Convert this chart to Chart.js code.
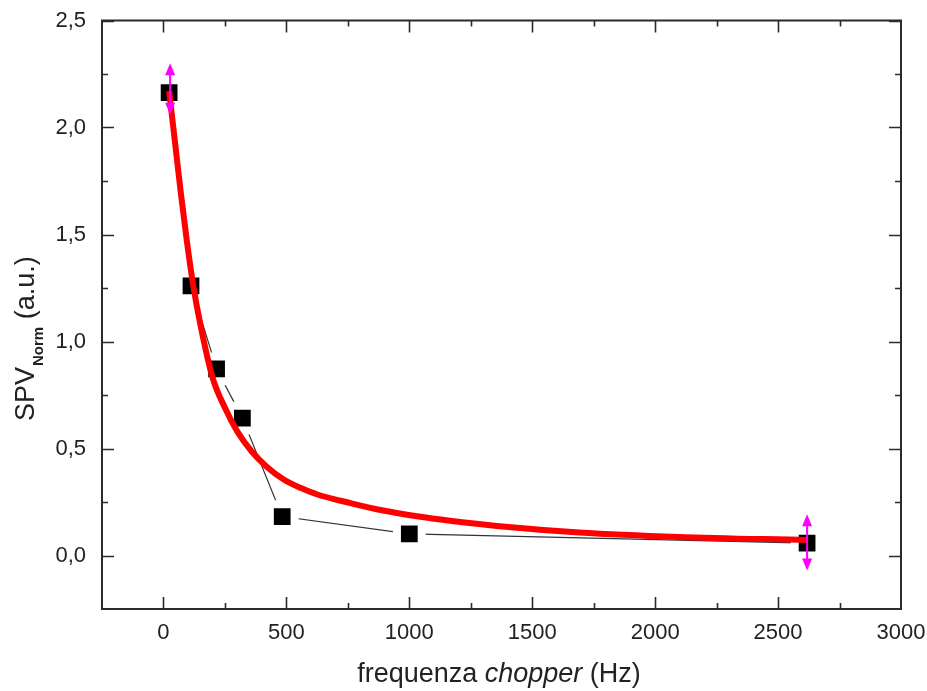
<!DOCTYPE html>
<html>
<head>
<meta charset="utf-8">
<script src="https://cdn.jsdelivr.net/npm/chart.js@4/dist/chart.umd.min.js"></script>
<style>
html,body{margin:0;padding:0;background:#fff;}
#wrap{width:927px;height:691px;position:relative;}
</style>
</head>
<body>
<div id="wrap"><canvas id="c" width="927" height="691"></canvas></div>
<script>
// ---- data ----
const freqHz = [23, 112, 216, 321, 483, 1000, 2618];
const spvNorm = [2.163, 1.26, 0.872, 0.642, 0.182, 0.101, 0.058];

const fitHz  = [23, 45, 70, 95, 120, 150, 200, 250, 300, 360, 420, 489, 560, 626, 760, 894, 1031, 1165, 1356, 1691, 2096, 2618];
const fitSpv = [2.17, 1.95, 1.70, 1.47, 1.27, 1.08, 0.83, 0.69, 0.58, 0.485, 0.415, 0.355, 0.315, 0.285, 0.245, 0.21, 0.183, 0.162, 0.138, 0.108, 0.087, 0.072];

const arrowHz  = [27, 2618];
const arrowTop = [2.30, 0.193];
const arrowBot = [2.06, -0.07];

const xTicks = [0, 500, 1000, 1500, 2000, 2500, 3000];
const yTicks = [0, 0.5, 1.0, 1.5, 2.0, 2.5];
const xMinor = [-250, 250, 750, 1250, 1750, 2250, 2750];
const yMinor = [-0.25, 0.25, 0.75, 1.25, 1.75, 2.25];

const AX = '#2b2b2b';

const framePlugin = {
  id: 'frame',
  afterLayout(chart) {
    const a = chart.chartArea, y = chart.scales.y;
    const top = 20.5;
    a.top = top; a.height = a.bottom - a.top;
    y.top = top; y.height = y.bottom - y.top;
    y.configure();
  },
  afterDatasetsDraw(chart) {
    const {ctx, chartArea: a, scales: {x, y}} = chart;
    ctx.save();
    ctx.strokeStyle = AX;
    ctx.lineWidth = 2;
    ctx.strokeRect(a.left, a.top, a.right - a.left, a.bottom - a.top);
    ctx.lineWidth = 1.6;
    ctx.beginPath();
    const tick = (vals, len, horiz) => {
      vals.forEach(v => {
        if (horiz) {
          const px = Math.round(x.getPixelForValue(v)) + 0.5;
          if (px < a.left + 1 || px > a.right - 1) return;
          ctx.moveTo(px, a.bottom); ctx.lineTo(px, a.bottom - len);
          ctx.moveTo(px, a.top); ctx.lineTo(px, a.top + len);
        } else {
          const py = Math.round(y.getPixelForValue(v)) + 0.5;
          if (py < a.top + 1 || py > a.bottom - 1) return;
          ctx.moveTo(a.left, py); ctx.lineTo(a.left + len, py);
          ctx.moveTo(a.right, py); ctx.lineTo(a.right - len, py);
        }
      });
    };
    tick(xTicks, 12, true); tick(xMinor, 6, true);
    tick(yTicks, 12, false); tick(yMinor, 6, false);
    ctx.stroke();

    // magenta double arrows
    ctx.strokeStyle = '#ff00ff';
    ctx.fillStyle = '#ff00ff';
    ctx.lineWidth = 2;
    arrowHz.forEach((f, i) => {
      const px = x.getPixelForValue(f);
      const pt = y.getPixelForValue(arrowTop[i]);
      const pb = y.getPixelForValue(arrowBot[i]);
      ctx.beginPath(); ctx.moveTo(px, pt + 4); ctx.lineTo(px, pb - 4); ctx.stroke();
      ctx.beginPath(); ctx.moveTo(px, pt); ctx.lineTo(px - 5, pt + 12); ctx.lineTo(px + 5, pt + 12); ctx.closePath(); ctx.fill();
      ctx.beginPath(); ctx.moveTo(px, pb); ctx.lineTo(px - 5, pb - 12); ctx.lineTo(px + 5, pb - 12); ctx.closePath(); ctx.fill();
    });

    // axis titles
    ctx.fillStyle = '#222';
    ctx.textBaseline = 'alphabetic';
    const big = '27px "Liberation Sans", Arial, sans-serif';
    const bigI = 'italic 27px "Liberation Sans", Arial, sans-serif';
    const parts = [[big, 'frequenza '], [bigI, 'chopper'], [big, ' (Hz)']];
    let tw = 0;
    parts.forEach(p => { ctx.font = p[0]; tw += ctx.measureText(p[1]).width; });
    let sx = 499 - tw / 2;
    parts.forEach(p => { ctx.font = p[0]; ctx.fillText(p[1], sx, 682); sx += ctx.measureText(p[1]).width; });

    ctx.save();
    ctx.translate(34, 421);
    ctx.rotate(-Math.PI / 2);
    let cx = 0;
    ctx.font = big; ctx.fillText('SPV', cx, 0); cx += ctx.measureText('SPV').width + 1;
    ctx.font = 'bold 15px "Liberation Sans", Arial, sans-serif';
    ctx.fillText('Norm', cx, 9); cx += ctx.measureText('Norm').width;
    ctx.font = big; ctx.fillText(' (a.u.)', cx, 0);
    ctx.restore();
    ctx.restore();
  }
};

const zeroPad = s => { s.paddingTop = 0; s.paddingBottom = 0; s.paddingLeft = 0; s.paddingRight = 0; };

new Chart(document.getElementById('c'), {
  type: 'scatter',
  data: {
    datasets: [
      {
        label: 'fit',
        data: fitHz.map((f, i) => ({x: f, y: fitSpv[i]})),
        showLine: true,
        borderColor: '#ff0000',
        borderWidth: 6,
        pointRadius: 0,
        cubicInterpolationMode: 'monotone',
        order: 1
      },
      {
        label: 'SPV',
        data: freqHz.map((f, i) => ({x: f, y: spvNorm[i]})),
        showLine: true,
        borderColor: '#333',
        borderWidth: 1.2,
        pointStyle: 'rect',
        pointRadius: 17.5,
        pointBorderWidth: 8,
        pointBorderColor: '#ffffff',
        pointBackgroundColor: '#000000',
        order: 2
      }
    ]
  },
  options: {
    responsive: false,
    animation: false,
    events: [],
    layout: {padding: {top: 12, right: 26, left: 0, bottom: 0}},
    plugins: {legend: {display: false}, tooltip: {enabled: false}},
    scales: {
      x: {
        type: 'linear', min: -250, max: 3000,
        afterBuildTicks: s => { s.ticks = xTicks.map(v => ({value: v})); },
        afterFit: s => { s.height = 82; zeroPad(s); },
        grid: {display: false, drawTicks: false},
        border: {display: false},
        ticks: {color: '#222', padding: 11, font: {family: '"Liberation Sans", Arial, sans-serif', size: 22}, maxRotation: 0, autoSkip: false,
          callback: v => String(v)}
      },
      y: {
        type: 'linear', min: -0.25, max: 2.5,
        afterBuildTicks: s => { s.ticks = yTicks.map(v => ({value: v})); },
        afterFit: s => { s.width = 102; zeroPad(s); },
        grid: {display: false, drawTicks: false},
        border: {display: false},
        ticks: {color: '#222', padding: 16, font: {family: '"Liberation Sans", Arial, sans-serif', size: 22},
          callback: v => v.toFixed(1).replace('.', ',')}
      }
    }
  },
  plugins: [framePlugin]
});
</script>
</body>
</html>
